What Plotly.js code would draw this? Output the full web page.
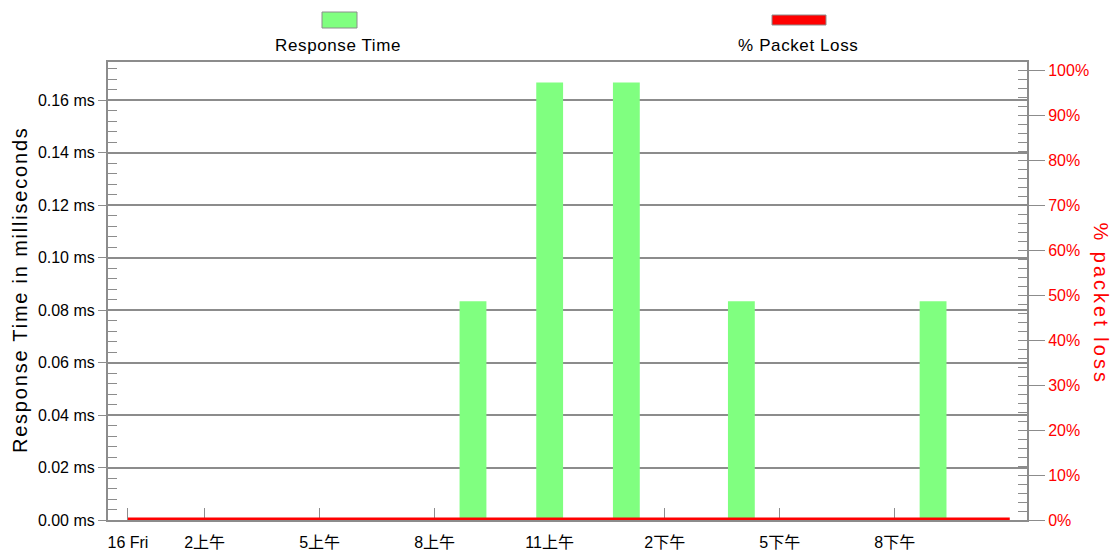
<!DOCTYPE html>
<html>
<head>
<meta charset="utf-8">
<script src="https://cdn.plot.ly/plotly-3.0.1.min.js"></script>
<style>
html,body{margin:0;padding:0;background:#fff;}
#chart{width:1113px;height:554px;}
g.annotation[data-index="2"] text{letter-spacing:1.8px;}
g.annotation[data-index="3"] text{letter-spacing:3px;}
g.annotation[data-index="0"] text, g.annotation[data-index="1"] text{letter-spacing:0.6px;}
</style>
</head>
<body>
<div id="chart"></div>
<script>
// Hours of the day (16 Fri), hourly samples
const hours = [0,1,2,3,4,5,6,7,8,9,10,11,12,13,14,15,16,17,18,19,20,21,22,23];
const responseTimeMs = [0,0,0,0,0,0,0,0,0,0.0833,0,0.1667,0,0.1667,0,0,0.0833,0,0,0,0,0.0833,0,0];
const packetLossPct = [0,0,0,0,0,0,0,0,0,0,0,0,0,0,0,0,0,0,0,0,0,0,0,0];
const xTickVals = [0,2,5,8,11,14,17,20];
const xTickText = ["16 Fri","2上午","5上午","8上午","11上午","2下午","5下午","8下午"];
const leftTickVals = [0,0.02,0.04,0.06,0.08,0.10,0.12,0.14,0.16];
const leftTickText = ["0.00 ms","0.02 ms","0.04 ms","0.06 ms","0.08 ms","0.10 ms","0.12 ms","0.14 ms","0.16 ms"];
const rightTickVals = [0,10,20,30,40,50,60,70,80,90,100];
const rightTickText = ["0%","10%","20%","30%","40%","50%","60%","70%","80%","90%","100%"];

const FONT = "Arial, 'Liberation Sans', 'Noto Sans CJK SC', sans-serif";
const GRAY = "#8c8c8c";

// pixel helpers for paper coords (plot area 108..1027 x, 62..520 y)
const L = 108, R = 1027, T = 62, B = 520;
const px = v => (v - L) / (R - L);
const py = v => (B - v) / (B - T);

const traces = [
  {
    type: "bar", x: hours, y: responseTimeMs, name: "Response Time",
    width: 0.7, marker: {color: "#80ff80", line: {width: 0}},
    yaxis: "y", hoverinfo: "x+y"
  },
  {
    type: "scatter", mode: "lines", x: hours, y: packetLossPct, name: "% Packet Loss",
    line: {color: "#ff0000", width: 5}, yaxis: "y2"
  }
];

const layout = {
  width: 1113, height: 554,
  margin: {l: L, r: 1113 - R, t: T, b: 554 - B, pad: 0},
  paper_bgcolor: "#ffffff", plot_bgcolor: "#ffffff",
  showlegend: false,
  font: {family: FONT, size: 16, color: "#000"},
  xaxis: {
    range: [-0.52, 23.45], tickvals: xTickVals, ticktext: xTickText,
    ticks: "inside", ticklen: 12, tickcolor: GRAY, tickwidth: 1,
    ticklabelstandoff: 7,
    showgrid: false, zeroline: false, layer: "below traces",
    showline: true, linecolor: GRAY, linewidth: 2, mirror: true,
    tickfont: {family: FONT, size: 16, color: "#000"}
  },
  yaxis: {
    range: [0, 0.1745], tickvals: leftTickVals, ticktext: leftTickText,
    ticks: "outside", ticklen: 8, tickcolor: GRAY, tickwidth: 1,
    minor: {dtick: 0.004, ticks: "inside", ticklen: 9, tickcolor: GRAY, showgrid: false},
    showgrid: true, gridcolor: GRAY, gridwidth: 2, zeroline: false,
    showline: true, linecolor: GRAY, linewidth: 2,
    tickfont: {family: FONT, size: 16, color: "#000"}
  },
  yaxis2: {
    overlaying: "y", side: "right",
    range: [0, 101.8], tickvals: rightTickVals, ticktext: rightTickText,
    ticks: "outside", ticklen: 16, tickcolor: GRAY, tickwidth: 1,
    minor: {dtick: 2, ticks: "inside", ticklen: 9, tickcolor: GRAY, showgrid: false},
    showgrid: false, zeroline: false,
    showline: true, linecolor: GRAY, linewidth: 2,
    tickfont: {family: FONT, size: 16, color: "#ff0000"}
  },
  shapes: [
    {type: "rect", xref: "paper", yref: "paper", x0: px(322), x1: px(357), y0: py(28), y1: py(12),
     fillcolor: "#80ff80", line: {color: "#8c8c8c", width: 1}},
    {type: "rect", xref: "paper", yref: "paper", x0: px(772), x1: px(826), y0: py(25), y1: py(15),
     fillcolor: "#ff0000", line: {color: "#8c8c8c", width: 1}}
  ],
  annotations: [
    {xref: "paper", yref: "paper", x: px(338), y: py(46), text: "Response Time", showarrow: false,
     xanchor: "center", yanchor: "middle", font: {family: FONT, size: 17, color: "#000"}},
    {xref: "paper", yref: "paper", x: px(798), y: py(46), text: "% Packet Loss", showarrow: false,
     xanchor: "center", yanchor: "middle", font: {family: FONT, size: 17, color: "#000"}},
    {xref: "paper", yref: "paper", x: px(20), y: py(290), text: "Response Time in milliseconds", showarrow: false,
     textangle: -90, xanchor: "center", yanchor: "middle", font: {family: FONT, size: 20, color: "#000"}},
    {xref: "paper", yref: "paper", x: px(1101), y: py(303), text: "% packet loss", showarrow: false,
     textangle: 90, xanchor: "center", yanchor: "middle", font: {family: FONT, size: 20, color: "#ff0000"}}
  ]
};

Plotly.newPlot("chart", traces, layout, {displayModeBar: false, staticPlot: true});
</script>
</body>
</html>
